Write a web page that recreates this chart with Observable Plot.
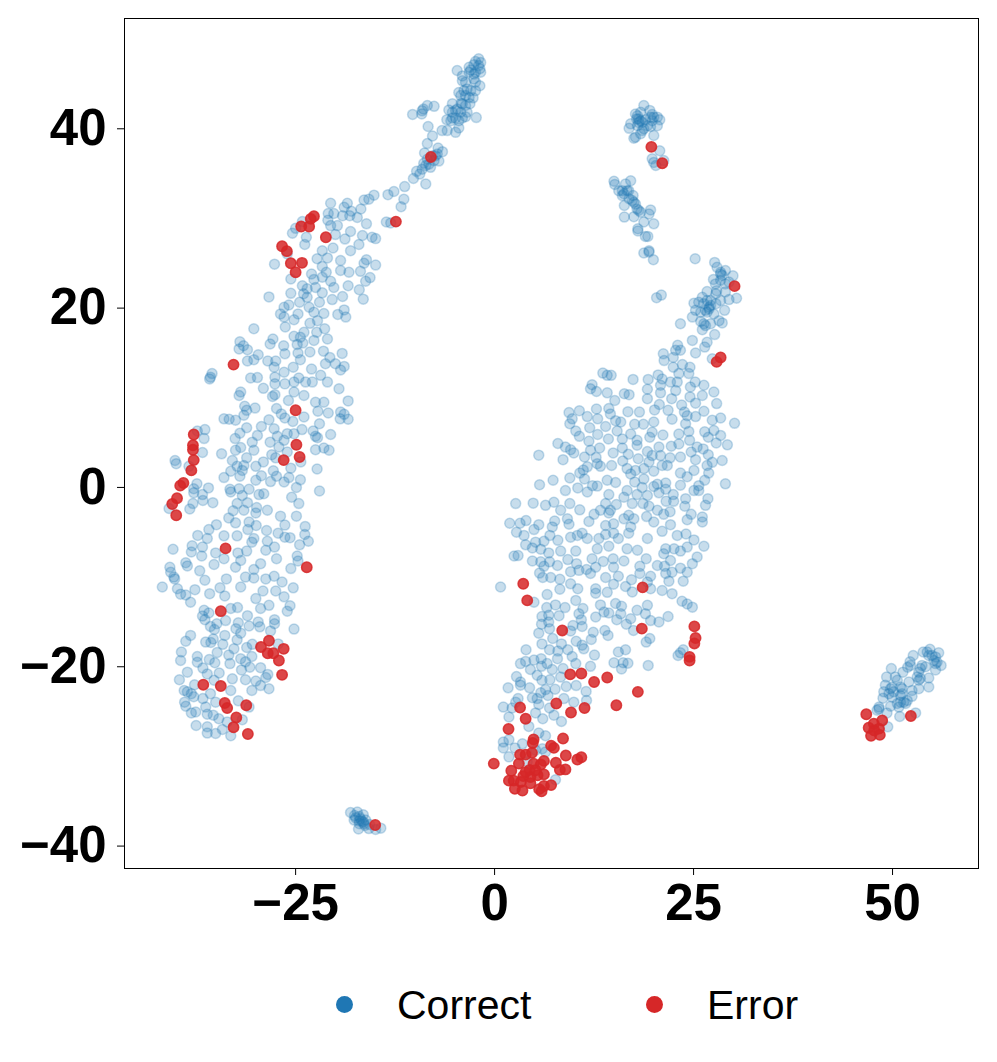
<!DOCTYPE html>
<html><head><meta charset="utf-8">
<script src="https://cdn.jsdelivr.net/npm/d3@7"></script>
<script src="https://cdn.jsdelivr.net/npm/@observablehq/plot@0.6"></script>
<style>
html,body{margin:0;padding:0;background:#fff}
#chart{position:relative;width:997px;height:1062px;font-family:"Liberation Sans",Arial,sans-serif}
#chart svg{display:block}
.key{position:absolute;top:982px;font-size:41px;line-height:46px;color:#000}
.sw{position:absolute;top:996px;width:17px;height:17px;border-radius:50%}
</style></head><body><div id="chart"></div>
<script>
const xTicks=[-25,0,25,50];
const yTicks=[-40,-20,0,20,40];
const seriesNames=["Correct","Error"];
const seriesColors=["#1f77b4","#d62728"];

const correctNorthStrand=[[-2,47.8],[-1.75,47.4],[-2.6,47.15],[-3.2,46.85],[-1.85,46.7],[-2.4,46.3],[-3.2,46.3],[-4.7,46.5],[-4.05,45.9],[-2.6,45.55],[-4.05,45.35],[-1.85,44.8],[-2.4,44.25],[-3.45,44.45],[-4.5,44.05],[-3.65,43.7],[-2.7,43.45],[-3.1,42.8],[-4.2,42.85],[-5.3,42.8],[-5.75,42.1],[-3.45,41.85],[-4.9,42.05],[-2.3,41.25],[-4.25,41.85],[-5.3,41.2],[-6,41],[-4.5,40.9],[-3.65,41.35],[-4.5,40.1],[-4.9,39.6],[-5.95,39.8],[-6.6,39.8],[-7.6,42.5],[-8.45,42.6],[-9.1,42],[-9.15,41.65],[-10.3,41.6],[-8.95,42.2],[-8.35,40.25],[-7.8,39.2],[-8.45,38.35],[-7.1,37.85],[-8.8,37.3],[-6.55,37.45],[-7.4,37],[-7,36.4],[-8.9,36.15],[-8.05,35.7],[-9.1,35.5],[-9.8,35.25],[-9.4,34.95],[-10.2,34.45],[-8.65,33.85],[-11.3,33.55],[-12.65,33],[-13.4,32.65],[-11.4,32.15],[-11.75,31.3],[-15.15,32.6],[-15.8,32.15],[-16.4,32.05],[-13.6,29.6],[-13.05,29.5],[-2.4,47.5],[-2,47.05],[-3,46.55],[-1.75,46.3],[-2.6,46.1],[-3.65,45.2],[-2.4,45.2],[-3,44.25],[-3.85,44.25],[-4.25,43.7],[-3.2,43.5],[-4.05,42.8],[-4.7,42.2],[-3.65,42.6],[-5.3,41.85],[-4.9,41.2],[-4.05,41.2],[-5.5,40.9],[-7.8,37],[-8.45,36.6],[-7.6,36.45],[-8.25,36.05],[-8.65,35.9],[-7.2,37.2]];
const correctUpperLeft=[[-20.6,31.7],[-18.5,31.7],[-18.9,31.25],[-16.8,31.05],[-18,30.8],[-19.1,30.3],[-18.2,30.3],[-17.25,30.1],[-20.9,30.55],[-20.2,30.55],[-20.95,29.8],[-24.15,29.65],[-20.6,29.2],[-19.75,29.2],[-16.1,29.4],[-25,28.9],[-25.4,28.35],[-18.1,28.55],[-20,28.2],[-16.6,28.1],[-15.4,27.9],[-14.95,27.75],[-18.8,27.7],[-23.65,27.9],[-23.85,27.1],[-17.05,27.1],[-20.3,26.7],[-21.65,26.4],[-18.1,26.4],[-26.05,26.05],[-22.3,25.5],[-21,25.6],[-19.35,25.3],[-16.1,25.4],[-16.4,25],[-14.95,24.8],[-27.65,24.9],[-21.65,24.65],[-19.35,24.2],[-18.3,24],[-16.85,24.1],[-23,23.8],[-21.15,24],[-25.6,23.25],[-21.65,23.45],[-22.7,23.2],[-20.6,23],[-15.65,23.4],[-16.2,23],[-24.15,22.5],[-22.5,22.3],[-20.2,22.3],[-18.4,22.5],[-17,22.05],[-23.55,22.15],[-21.65,21.7],[-24,21.6],[-25.6,21.65],[-19.1,21.3],[-28.35,21.25],[-23.55,21.2],[-20.4,20.95],[-16.5,21],[-24.5,20.65],[-22,20.65],[-25.85,20.35],[-26.45,20.1],[-23.3,20.1],[-18.9,19.8],[-24.7,19.35],[-21.45,19.4],[-22.7,19.55],[-19.7,19.3],[-18.7,19],[-26.9,19.35],[-26.45,19],[-25.2,18.7],[-22.25,18.6],[-23.2,18.3],[-30.25,17.7],[-26.3,17.9],[-21.35,17.7],[-22.35,17.3],[-23.95,17.3],[-25.2,16.85],[-24.4,16.75],[-21,16.55],[-22.7,16.4],[-27.85,16.55],[-28.2,16],[-32,16.25],[-31.55,15.8],[-24.8,15.95],[-24.1,16.1],[-26.5,15.8],[-32.1,15.45],[-31.05,15.35],[-26.35,14.9],[-24.7,15],[-23.2,15.1],[-21.5,15.2],[-19.15,14.95],[-20.7,14.5],[-29.7,14.8],[-30.25,14.25],[-31.05,14.1],[-28.5,14.1],[-27.5,14.1],[-24.4,14.25],[-21.25,13.8],[-18.9,13.5],[-20,13.8],[-27.7,13.4],[-25.3,13.4],[-23,13.2],[-19.35,13.1],[-26.45,12.85]];
const correctMidLeft=[[-35.5,12.7],[-35.7,12.3],[-35.8,12.1],[-30.65,12.2],[-29.8,12.25],[-27.6,12.3],[-21.85,12.5],[-24.6,12.2],[-23.75,11.75],[-22.9,11.75],[-21,11.75],[-27.6,11.55],[-26.35,11.55],[-25.2,11.75],[-29.05,11.05],[-19.55,11],[-31.9,10.65],[-32.1,10.25],[-27.6,10.35],[-27.9,10.15],[-25.2,10.65],[-23.95,10.25],[-25.9,9.7],[-22.5,9.5],[-21.45,9.5],[-18.4,9.65],[-31.4,9.05],[-30.1,8.85],[-27.4,8.8],[-22.2,8.5],[-20.9,8.3],[-19.35,8.4],[-18.9,8.15],[-31.15,8.6],[-31.5,8.05],[-26.8,8.2],[-34,7.65],[-33.35,7.6],[-32.55,7.5],[-28.35,7.55],[-26.35,7.75],[-25.35,7.35],[-23.95,7.85],[-19.4,7.65],[-18.4,7.6],[-22,7.1],[-31.15,6.65],[-29.3,6.8],[-27.7,6.55],[-26.05,6],[-24.2,6.45],[-22.8,6.3],[-20.6,5.9],[-36.4,6.45],[-37.35,6.3],[-32,6.05],[-32.6,5.45],[-29.8,5.8],[-27.3,5.7],[-22.5,5.7],[-36.5,5.45],[-30.45,5.05],[-28.2,5.05],[-26.45,5.25],[-25.2,6],[-22.25,5.55],[-31.9,4.45],[-32.55,4.15],[-30.25,4.15],[-27.1,4.5],[-22.5,4.2],[-21.45,4.4],[-20.8,4.15],[-36.7,3.9],[-34.3,3.75],[-28,3.65],[-27.5,3.3],[-26.05,3.95],[-32.95,3],[-31.15,3.3],[-29.05,2.85],[-24.35,2.85],[-40.15,3],[-40,2.65],[-31.5,2.45],[-30,2.35],[-32.35,2.35],[-38.4,2.35],[-27.8,1.85],[-25.6,2.15],[-22.3,2.05],[-33.15,1.8],[-31.7,1.9],[-34,1.1],[-32,1.25],[-29.3,1.3],[-27.4,1.25],[-25.85,1.1],[-24.4,0.85],[-30,0.8],[-28.15,0.65],[-26.45,0.6],[-37.4,0.4],[-35.95,-0.05],[-37.8,-0.15],[-33.25,-0.2],[-32.1,-0.15],[-30.85,-0.2],[-24.9,0],[-22,-0.4],[-37.8,-0.6],[-36.7,-0.8],[-33.15,-0.5],[-29,-0.7],[-29.6,-0.8],[-31.7,-0.9],[-25.5,-1.1],[-36.65,-1.45],[-35.4,-1.7],[-31.05,-1.7],[-32.35,-1.8],[-24.6,-1.8],[-37.9,-1.8],[-40.9,-2.35],[-38.3,-2.4],[-29.9,-2.25],[-32.85,-2.6],[-31.5,-2.55],[-28.55,-2.55],[-30,-2.85],[-26.9,-3.2],[-24.9,-3.2],[-33.4,-3.4],[-32.55,-3.95],[-30.85,-3.85],[-29.95,-4.25],[-26.35,-4.2],[-34.95,-4.15],[-35.9,-4.7],[-31,-4.7],[-28.65,-4.8],[-23.8,-4.35],[-27.2,-5.1],[-37.3,-5.35],[-34,-5.4],[-32.35,-5.4],[-23.85,-5.25],[-36.1,-5.7],[-30.25,-5.7],[-26.35,-5.55],[-25.7,-5.6],[-23.4,-6],[-28.55,-6],[-38,-6.5],[-30.5,-6.1],[-24.5,-6.4],[-40.4,-6.9],[-36.7,-6.65],[-27.65,-6.65],[-35.05,-7.3],[-32.25,-7.3],[-31.15,-7.1],[-28.75,-7],[-38.1,-7.2],[-36.8,-7.65],[-24.8,-7.65],[-34,-7.95],[-27.4,-7.95],[-31.9,-8.15],[-29.4,-8.5],[-24.7,-8.2],[-38.8,-8.4],[-38.6,-8.75],[-35.25,-8.6],[-32.55,-8.9],[-30.25,-9.15],[-40.8,-8.9],[-25.6,-9.05],[-40.7,-9.45],[-37.05,-9.3],[-40.3,-10],[-36.4,-10.35],[-33.7,-10.2],[-27.7,-9.9],[-31.3,-10],[-30.25,-10.1],[-28.75,-10.2],[-40.2,-10.2],[-26.7,-10.55],[-41.75,-11.1],[-39.85,-11.3],[-34.5,-11.2],[-25.3,-11.2],[-37.65,-11.4],[-31.9,-11.1],[-29.1,-11.55],[-27.5,-11.55],[-39.45,-11.9],[-38.8,-12],[-35.8,-11.85],[-33.9,-12.1],[-30,-12.4],[-26.45,-12.2]];
const correctLowerLeft=[[-29.4,-13.5],[-38.2,-12.8],[-36.5,-13.7],[-35.9,-14],[-26.05,-13.8],[-25.7,-13.2],[-28.35,-13.15],[-33.15,-13.5],[-32.3,-13.4],[-31.05,-14.3],[-36.7,-14.35],[-36.4,-14.75],[-33.8,-14.85],[-29.7,-15],[-27.65,-14.75],[-27.65,-15.2],[-32.2,-15.1],[-34.9,-15.2],[-30.85,-15.45],[-29.5,-15.55],[-35.7,-15.5],[-35.2,-15.85],[-32.5,-15.75],[-25.2,-15.8],[-31.9,-16.25],[-28.15,-16],[-38.2,-16.5],[-38.8,-17.15],[-33.9,-16.5],[-35.35,-16.9],[-36.3,-17.25],[-35.65,-17.3],[-32.35,-17],[-34.15,-17.5],[-30.45,-17.5],[-31.15,-17.85],[-27.2,-17.45],[-32.75,-18],[-39.35,-18.35],[-34.85,-18.4],[-33.4,-18.7],[-37.35,-18.85],[-30.5,-18.85],[-39.45,-19.3],[-35.85,-19.2],[-31.9,-19.1],[-35.15,-19.55],[-37.35,-19.5],[-33.25,-19.65],[-31.3,-19.45],[-36.65,-20.15],[-29.4,-20.1],[-30.75,-20.05],[-31.8,-20.35],[-36.1,-20.8],[-34.6,-20.7],[-38.6,-20.6],[-28.5,-20.85],[-39.6,-21.45],[-32.95,-21.35],[-28.75,-21.2],[-30,-21.6],[-31.3,-21.45],[-37.7,-22],[-35.25,-21.5],[-29.4,-22.1],[-33.15,-22.65],[-28.35,-22.45],[-30.5,-22.65],[-39,-22.65],[-38.1,-23],[-38.6,-22.8],[-35.7,-23],[-37.8,-23.35],[-36.65,-23.55],[-35.05,-23.95],[-32.2,-23.8],[-38.95,-23.95],[-38.8,-24.4],[-36.3,-24.5],[-30.85,-24.5],[-37.55,-25.05],[-38.1,-25.15],[-36.1,-25.3],[-35.35,-25.4],[-34.65,-25.8],[-31.7,-25.9],[-33.6,-26.15],[-37.5,-26.55],[-36.1,-26.7],[-34.2,-27],[-36.1,-27.4],[-35.05,-27.45],[-33.15,-27.7]];
const correctSmallIsland=[[-18.1,-36.25],[-17.25,-36.2],[-16.5,-36.5],[-17.45,-36.85],[-16.85,-36.95],[-16.2,-37.1],[-17,-37.5],[-16.3,-37.7],[-17.1,-38.1],[-15.8,-38.05],[-14.3,-38],[-14.95,-38.15],[-17.65,-37.1],[-17.6,-36.6],[-17,-36.7],[-16.7,-37.2],[-16.5,-37.3],[-15.7,-37.6],[-17,-37.2],[-16.4,-37.5]];
const correctRightBlob=[[23,15.85],[22.75,15.3],[21.2,14.9],[23.35,15.3],[25.25,15],[22.45,14.5],[21.3,14.15],[27.35,14.35],[26.4,15.65],[26.7,16.2],[24.85,16.4],[13.6,12.75],[14.15,12.5],[14.65,12.5],[17.4,12.05],[19.3,12.05],[20.55,12.55],[21.05,12.1],[22.45,13.4],[23.6,13.7],[24.55,13.4],[23.15,12.7],[24.4,12.7],[22.1,11.75],[22.95,11.75],[25.2,11.75],[26.3,11.4],[24.6,11.2],[20.85,11.4],[12.25,11.45],[12.05,11],[12.8,10.7],[14.15,10.55],[16.3,10.45],[16.9,10.35],[19.2,10.95],[20.85,10.55],[22.75,10.8],[27.55,10.65],[19.2,9.9],[15.1,9.7],[22.25,9.9],[24.55,10.1],[26.1,10.25],[25.25,9.4],[27.9,9.35],[20.7,9.25],[23.5,9.2],[9.35,8.35],[10.65,8.55],[12.8,8.75],[14.35,8.8],[16.75,8.45],[18.2,8.4],[20.1,8.65],[21.8,8.6],[23.85,8.4],[26.3,8.5],[9.75,7.65],[11.65,7.9],[12.95,7.65],[14.55,8.2],[15.85,7.3],[17.6,7.05],[18.7,7.05],[20,7.3],[22.3,7.6],[24.2,8],[25.25,7.9],[27.35,7.5],[28.4,7.75],[30.15,7.15],[9.45,7.1],[15.2,7.45],[24,7.1],[11.95,6.65],[13.95,6.8],[10.2,6.3],[12.95,5.9],[15.4,6.3],[17.1,5.95],[19.8,6.15],[21.15,5.85],[23.15,5.95],[24.4,6.25],[26.4,6.2],[27.55,6.35],[28.4,5.8],[10.65,5.7],[14.3,5.4],[16.05,5.4],[17.9,5.25],[19.5,5.6],[24.5,5.25],[26.85,5.6],[27.85,4.95],[7.95,4.9],[11.85,5.15],[23.15,4.85],[29.25,4.75],[8.9,4.5],[9.55,4.2],[12.05,4.15],[13.2,4.4],[16.05,4.4],[17.9,4.7],[20.65,4.5],[22.2,4.6],[25.45,4.5],[26.2,4.3],[14.9,3.85],[19.2,4],[24.7,3.95],[9.95,3.85],[5.55,3.6],[11.3,3.4],[12.75,3.35],[16.8,3.7],[19.8,3.55],[20.85,3.55],[23.35,3.4],[26.85,3.65],[8.6,3.1],[18.05,3.2],[22.05,3.3],[25.25,3.1],[28.6,3],[12.9,2.65],[14.7,2.45],[16.1,2.95],[19.4,2.85],[21.05,2.45],[21.7,2.45],[26.7,2.45],[27.35,2.8],[11.65,2.3],[13.3,2.35],[16.65,2.1],[17.7,1.9],[18.75,2.1],[20,1.8],[25.05,1.9],[11.15,1.95],[10.7,1.6],[23.35,1.6],[17.1,1.5],[26.9,1.6],[9.45,1.05],[11.3,0.95],[7.35,0.8],[18.75,0.95],[24.2,1.2],[26.4,0.8],[15.2,0.55],[14.15,0.8],[17.6,0.6],[21.5,0.5],[5.65,0.3],[12.9,0.15],[23.35,0.25],[20.45,0.35],[29,0.4],[25.65,0.2],[10.45,-0.05],[12.3,0.2],[18.55,0],[20,0.1],[8.9,-0.35],[11.65,-0.5],[16.65,-0.35],[21.5,-0.2],[25.05,-0.35],[25.65,-0.35],[14.35,-0.8],[17.9,-0.8],[19.2,-0.9],[20.65,-0.6],[22.45,-0.8],[16.25,-1.1],[24,-1.25],[26.8,-1.25],[2.65,-1.8],[4.85,-1.75],[13.95,-1.8],[15.3,-1.9],[17.3,-1.8],[19.4,-2.1],[22.5,-1.55],[21.55,-1.55],[26.5,-2],[7.45,-1.65],[6.4,-2],[9.45,-1.8],[23.9,-2.1],[18.65,-1.8],[8.3,-2.55],[10.7,-2.5],[13.3,-2.55],[14.55,-2.55],[20.45,-2.55],[22.05,-2.7],[12.5,-3],[16.85,-3.1],[14.35,-2.85],[16.25,-3.5],[19.1,-3.25],[21.25,-3],[24.7,-3],[26.1,-3.3],[24.2,-3.6],[9.15,-3.5],[11.85,-3.8],[17.5,-3.5],[20,-3.85],[1.9,-4],[3.2,-4],[3.95,-3.7],[7.55,-3.75],[9.35,-4.1],[5.55,-4.15],[26.1,-3.85],[13.95,-4.25],[22.1,-4.15],[14.95,-4.05],[7.25,-4.4],[4.95,-4.7],[2.75,-5],[17.1,-4.4],[3.7,-5.35],[11,-5.1],[10.4,-5.35],[14.95,-5.1],[16.85,-5.1],[21.05,-4.9],[6.95,-5.35],[9.55,-5.55],[13.95,-5.25],[22.95,-5.35],[24.05,-5.2],[11.65,-5.7],[13.1,-5.7],[6.2,-6],[7.95,-5.9],[15.55,-5.7],[19.2,-5.7],[25.05,-5.85],[3.9,-6.4],[5.15,-6.1],[14.35,-6.55],[26.3,-6.55],[4.75,-6.75],[5.8,-6.9],[8.3,-7.1],[10.2,-7.1],[12.9,-6.85],[16.65,-6.85],[17.95,-7],[21.5,-6.85],[22.55,-6.85],[23.35,-7.1],[24.2,-6.65],[6.8,-7.3],[2.45,-7.65],[2.95,-7.6],[21.25,-7.4],[25.45,-7.75],[4.75,-8.2],[5.8,-8.3],[6.9,-8.3],[9.2,-8.05],[12.25,-7.95],[13.65,-8.25],[14.9,-7.95],[16.25,-8.2],[19.05,-7.95],[22.1,-8.15],[24.85,-8.5],[6.2,-8.8],[7.9,-8.7],[10.3,-8.5],[12.7,-8.9],[14.95,-8.9],[18.25,-8.8],[20.45,-8.7],[21.35,-8.8],[23.35,-9],[24.2,-9.45],[5.65,-9.55],[9.55,-9.4],[10.6,-9.25],[11.55,-9.15],[12.05,-9.6],[7.05,-10.05],[6.05,-10.05],[8.2,-10.25],[13.95,-10.05],[15.55,-9.9],[18.25,-9.6],[19.6,-9.9],[22.3,-9.45],[21.5,-9.6],[23.7,-10.45],[21.9,-10.45],[9.55,-10.75],[14.95,-10.8],[17.2,-10.3],[19.2,-10.55],[16.45,-11.05],[8.2,-11.35],[10.45,-11.3],[0.75,-11.1],[12.7,-11.3],[12.7,-11.8],[14.15,-11.7],[19.6,-11.3],[17.3,-11.65],[21.05,-11.5],[22.3,-11.85],[6.6,-11.95]];
const correctRightTail=[[4.95,-12.8],[6.55,-13.4],[7.65,-13.1],[8.85,-13.4],[10.2,-12.6],[11.1,-13.5],[13.3,-13.1],[15.2,-12.95],[15.95,-13.25],[23.55,-12.7],[24.2,-13],[24.85,-13.35],[17.9,-13.7],[19.2,-13.15],[13.75,-13.9],[10.6,-14.1],[14.35,-14],[15.85,-14.1],[5.95,-14.4],[6.8,-14.25],[8.1,-14.3],[12.7,-14.45],[18.95,-14.1],[20.65,-15],[21.8,-14.4],[19.6,-14.85],[15.35,-14.75],[17.1,-14.65],[10.9,-14.75],[5.9,-15.25],[6.8,-15],[16.55,-15.25],[9.85,-15.4],[11,-15.5],[6.9,-15.75],[9.55,-16],[13.85,-15.95],[12.4,-16.15],[17.45,-15.95],[14.25,-16.5],[5.55,-16.25],[12.15,-16.95],[7.3,-16.85],[19.5,-16.85],[19.05,-17.25],[10.25,-17.15],[5.95,-17.45],[8.4,-17.45],[11,-17.6],[11.2,-18],[6.9,-18.1],[3.95,-18.1],[9.2,-18.1],[16.45,-18.1],[7.95,-18.25],[12.55,-18.7],[15.55,-18.35],[23.7,-18.1],[23.35,-18.45],[23.05,-18.75],[9.75,-18.85],[7.9,-19.1],[4.95,-19.25],[5.85,-19.1],[3.9,-19.4],[3.25,-19.65],[10.2,-19.65],[6.6,-19.65],[15,-19.55],[16.15,-19.55],[16.75,-19.6],[19.3,-19.85],[12.05,-19.95],[4.5,-20.3],[5.9,-19.95],[7.25,-20.3],[8.6,-20.2],[15.95,-20.25],[5.35,-20.95],[8.3,-21.15],[5.95,-21.5],[2.75,-21.1],[6.95,-21.45],[3.25,-21.7],[1.7,-22.35],[4.4,-22.35],[3.25,-22.05],[7.6,-22.5],[9,-22.2],[10.25,-22.1],[6.4,-22.55],[5.8,-22.9],[11.5,-22.75],[2.95,-23.55],[4.75,-23.45],[5.35,-23.55],[6.7,-23.2],[8.7,-23.55],[9.95,-23.95],[11.55,-23.75],[2.65,-23.95],[1.1,-24.5],[2.2,-24.6],[5.55,-24.2],[6.9,-24.6],[5.15,-25.15],[1.8,-25.6],[6.05,-25.8],[7.45,-25.4],[8.4,-26.1],[4.3,-26.65],[5.55,-27.4],[6.4,-27.7],[1.8,-28.15],[1.1,-28.4],[3.5,-28.6],[1.1,-29.05],[2.55,-29.05],[6,-29.15],[1.8,-30.05],[6.4,-29.5],[5.15,-29.3],[7.65,-32.6],[4.1,-30.6]];
const correctUpperRight=[[18.75,42.6],[19.5,42.05],[17.7,41.65],[18.35,41.85],[19.8,41.6],[20.45,41.3],[20.75,41],[17.85,41.1],[18.35,40.9],[18.95,41],[19.8,40.9],[17.1,40.55],[16.9,40.05],[17.95,40.35],[19.6,40.25],[20.45,40.35],[18.55,39.8],[18.35,39.45],[20,39.25],[17.7,39.05],[17.5,38.95],[20.75,37.55],[19.8,36.65],[20,36.25],[20.25,35.9],[21.25,36.45],[18.1,41.1],[18.55,40.7],[18.1,40.7],[19.6,41.3],[20,41.3],[19.2,40.35],[18.75,40],[17.95,41.45],[15,34.15],[15.1,33.8],[16.45,33.85],[17.1,34.2],[15.6,33.1],[16.65,33.1],[16.05,32.55],[17.4,32.55],[17.3,32],[17.7,31.6],[16.3,31.45],[18.1,30.9],[19.6,30.95],[19.4,30.5],[17.5,30.2],[16.3,30.15],[18.75,29.6],[20,29.4],[18,28.85],[18,28.6],[18.95,28],[19.25,28],[18.75,26.15],[19.4,26.4],[19.4,26.25],[19.95,25.4],[16.9,32.2],[17.5,31.8],[17.9,31.05],[18.35,30.7],[16.25,32.75],[16.85,33.1],[16.05,33.1],[25.2,25.5],[20.35,21.15],[20.95,21.45],[27.65,25.1],[27.95,24.55],[29,24.2],[28.4,23.8],[29.95,23.6],[27.5,23.2],[28.4,23.1],[29.45,22.9],[27.75,22.7],[29,21.8],[26.7,21.85],[27.9,21.95],[30.4,21.1],[29.45,20.95],[26.1,21.2],[25.05,20.55],[25.65,20.65],[27.15,20.85],[28.4,20.85],[27.8,20.5],[26.95,20.1],[26.7,19.55],[25.9,19.55],[25.25,19.75],[28.9,19.75],[27.55,19.35],[24.85,19],[25.9,18.5],[28.6,18.35],[28.2,18.6],[27.15,18.25],[26.5,18.05],[23.35,18.25],[26.1,17.6],[27.65,17.05],[28.4,24],[28.6,23.65],[29,22.7],[26.7,20.85],[26.95,19.9],[26.3,20.5],[27.15,20.3],[26.5,19.75],[27.8,21.6],[26.3,18.25]];
const correctFarRight=[[54.7,-18.05],[53.85,-18.35],[55.8,-18.45],[52.6,-18.75],[54.55,-18.75],[55.4,-18.9],[56.1,-19.85],[52.2,-19.45],[55.4,-19.65],[53.7,-19.85],[51.9,-20.05],[55.4,-20.35],[49.85,-20.2],[53.3,-20.6],[51.3,-20.6],[49.25,-21.15],[50.35,-21.15],[52.05,-21.7],[53.3,-21.5],[54.55,-21.25],[54.55,-22.25],[49.1,-22.05],[51,-22.25],[49.75,-22.45],[48.9,-22.8],[51.2,-23],[53.3,-22.45],[52.45,-22.65],[48.8,-23.5],[49.95,-23.4],[51,-23.95],[52.45,-23.3],[51.65,-24.1],[48.3,-24.5],[49.75,-24.4],[50.8,-24.5],[48.05,-24.85],[49.3,-25.15],[52.9,-25.15],[50.9,-25.55],[49.4,-26.7],[54.35,-18.35],[54.98,-18.75],[55.2,-19.3],[55.6,-19.5],[53.5,-20.2],[54.15,-20],[52.25,-19.85],[53.1,-21.15],[53.5,-21.3],[50.6,-21.5],[51.2,-22.45],[49.55,-23],[50.15,-22.8],[51,-23.2],[51.4,-23.95],[50.6,-24.1],[51.85,-23.75],[49.95,-22.25],[48.3,-24.7]];

const errorLeft=[[-8,36.86],[-12.4,29.65],[-22.7,30.25],[-23.1,29.95],[-23.3,29.1],[-24.3,29.1],[-21.2,27.9],[-26.7,26.9],[-26.1,26.35],[-25.6,25],[-24.2,25.05],[-25,24],[-32.8,13.7],[-25,8.6],[-24.9,4.76],[-24.5,3.4],[-26.5,3.05],[-37.8,5.9],[-37.9,4.7],[-37.9,4.2],[-37.8,3.05],[-38.1,1.9],[-39.1,0.5],[-39.5,0.2],[-39.9,-1.2],[-40.5,-1.85],[-40,-3.1],[-33.8,-6.8],[-23.6,-8.9],[-34.4,-13.8],[-28.35,-17.1],[-29.35,-17.8],[-28.5,-18.5],[-27.8,-18.5],[-26.5,-18],[-27.1,-19.3],[-26.7,-20.9],[-36.6,-22],[-34.4,-22.15],[-33.9,-24.05],[-33.6,-24.6],[-31.2,-24.3],[-32.45,-25.65],[-32.8,-26.75],[-31,-27.5],[-15,-37.65]];
const errorRight=[[19.7,37.98],[21.07,36.16],[30.15,22.45],[28.4,14.5],[27.9,14],[3.6,-10.75],[4.1,-12.6],[18.6,-11.15],[8.5,-15.95],[18.5,-15.75],[25.1,-15.5],[25.25,-16.8],[25.1,-17.4],[24.5,-18.9],[24.5,-19.3],[9.5,-20.85],[10.9,-20.75],[12.5,-21.7],[14.15,-21.2],[18,-22.8],[3.2,-24.55],[7.75,-24.1],[9.6,-25.1],[11.3,-24.6],[15.3,-24.3],[3.9,-25.8],[1.75,-26.95]];
const errorBottomCluster=[[8.6,-28],[4.9,-28.1],[4.8,-28.5],[7.1,-28.8],[7.45,-29.05],[10.4,-30.35],[10.9,-30.1],[8.95,-29.9],[-0.1,-30.8],[3.2,-29.8],[3.9,-29.8],[4.7,-29.6],[3.05,-30.8],[6.2,-30.5],[7.7,-30.7],[8.9,-31.45],[8.2,-31.5],[4.9,-30.8],[5.8,-30.9],[2.1,-31.6],[4.4,-31.5],[3.6,-32.2],[6.2,-32],[5.4,-32.1],[1.8,-32.7],[2.4,-32.7],[3.3,-32.85],[4.5,-33],[6.2,-33.3],[7.1,-33.2],[2.55,-33.6],[3.5,-33.8],[4.5,-32.3],[5.6,-33.65],[5.9,-33.9],[5.15,-31.55],[3.9,-31.75]];
const errorFarRight=[[46.7,-25.3],[52.3,-25.5],[48.7,-26],[47.65,-26.35],[47,-26.8],[48.3,-26.9],[47.7,-27.1],[47.3,-27.7],[48.4,-27.6]];

const correct=[...correctNorthStrand,...correctUpperLeft,...correctMidLeft,...correctLowerLeft,...correctSmallIsland,...correctRightBlob,...correctRightTail,...correctUpperRight,...correctFarRight];
const error=[...errorLeft,...errorRight,...errorBottomCluster,...errorFarRight];

const font={fontSize:51,fontWeight:"bold",fill:"#000",tickSize:7,strokeWidth:1,stroke:"#000"};
const plot=Plot.plot({
  width:997,height:950,marginLeft:124,marginRight:19,marginTop:18,marginBottom:82,
  style:{fontFamily:'"Liberation Sans",Arial,sans-serif',background:"#fff",overflow:"visible"},
  x:{domain:[-46.5,60.8],label:null},
  y:{domain:[-42.5,52.3],label:null},
  marks:[
    Plot.dot(correct,{x:d=>d[0],y:d=>d[1],r:5,fill:seriesColors[0],stroke:seriesColors[0],strokeWidth:1.5,fillOpacity:0.25,strokeOpacity:0.25}),
    Plot.dot(error,{x:d=>d[0],y:d=>d[1],r:5.2,fill:seriesColors[1],stroke:seriesColors[1],strokeWidth:1.5,fillOpacity:0.85,strokeOpacity:0.85}),
    Plot.frame({stroke:"#000",strokeWidth:1}),
    Plot.axisX({ticks:xTicks,tickFormat:d=>String(d).replace("-","\u2212"),...font,tickPadding:8,label:null}),
    Plot.axisY({ticks:yTicks,tickFormat:d=>String(d).replace("-","\u2212"),...font,tickPadding:11,label:null})
  ]
});
const root=document.getElementById("chart");
root.appendChild(plot);
const positions=[[336,397],[646,707]];
seriesNames.forEach((n,i)=>{
  const s=document.createElement("div");s.className="sw";s.style.left=positions[i][0]+"px";s.style.background=seriesColors[i];root.appendChild(s);
  const t=document.createElement("div");t.className="key";t.style.left=positions[i][1]+"px";t.textContent=n;root.appendChild(t);
});
</script></body></html>
